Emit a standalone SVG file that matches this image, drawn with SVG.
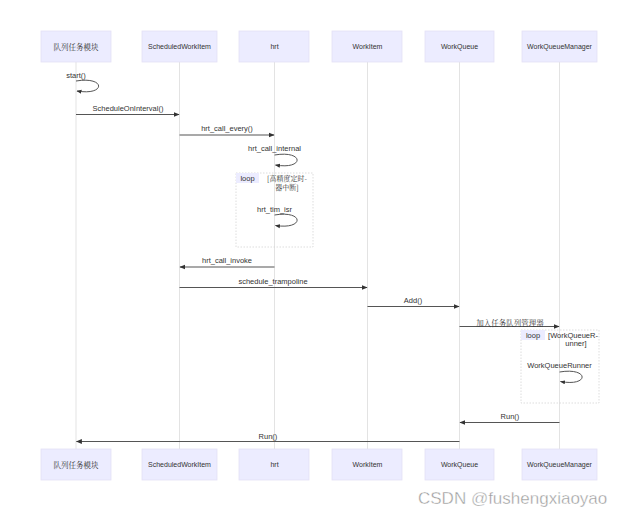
<svg xmlns="http://www.w3.org/2000/svg" width="640" height="518" viewBox="0 0 640 518">
<style>
.actor{fill:#ECECFF;stroke:#E4E0F6;stroke-width:0.8}
.atext{font-family:"Liberation Sans","Noto Sans CJK SC",sans-serif;font-size:7px;fill:#333;text-anchor:middle;dominant-baseline:central}
.cn{font-family:"Noto Serif CJK SC","Liberation Serif","Noto Sans CJK SC",serif;font-size:7.5px;fill:#333;text-anchor:middle;dominant-baseline:central}
.cn2{font-family:"Noto Serif CJK SC","Liberation Serif","Noto Sans CJK SC",serif;font-size:7px;fill:#333;text-anchor:middle}
.life{stroke:#dcdcdc;stroke-width:0.8}
.msg{stroke:#555;stroke-width:1.2;fill:none}
.self{stroke:#555;stroke-width:1;fill:none}
.mtext{font-family:"Liberation Sans","Noto Sans CJK SC",sans-serif;font-size:7.5px;fill:#333;text-anchor:middle}
.loopbox{fill:none;stroke:#d4d4d4;stroke-width:0.8;stroke-dasharray:1.5 1.5}
.looplab{fill:#ECECFF}
.ltext{font-family:"Liberation Sans",sans-serif;font-size:7.5px;fill:#333;text-anchor:middle}
</style>
<defs>
<marker id="arr" viewBox="0 0 10 10" refX="9" refY="5" markerWidth="5" markerHeight="5" orient="auto">
<path d="M0,1 L10,5 L0,9 z" fill="#333"/>
</marker>
</defs>
<rect width="640" height="518" fill="#fff"/>
<g id="lifelines">
<line class="life" x1="76" y1="62" x2="76" y2="449"/>
<line class="life" x1="179.5" y1="62" x2="179.5" y2="449"/>
<line class="life" x1="274.5" y1="62" x2="274.5" y2="449"/>
<line class="life" x1="367.5" y1="62" x2="367.5" y2="449"/>
<line class="life" x1="459.5" y1="62" x2="459.5" y2="449"/>
<line class="life" x1="559.5" y1="62" x2="559.5" y2="449"/>
</g>
<g id="loop1">
<rect class="loopbox" x="236" y="173" width="77" height="74"/>
<rect class="looplab" x="236" y="173" width="23" height="10"/>
<text class="ltext" x="247.5" y="181">loop</text>
<text class="cn2" x="287" y="181">[高精度定时-</text>
<text class="cn2" x="287" y="190">器中断]</text>
</g>
<g id="loop2">
<rect class="loopbox" x="521" y="330" width="78" height="73"/>
<rect class="looplab" x="521" y="330" width="24" height="10"/>
<text class="ltext" x="533" y="338">loop</text>
<text class="ltext" x="573" y="338">[WorkQueueR-</text>
<text class="ltext" x="576" y="346">unner]</text>
</g>
<g id="actor-queue-top"><rect class="actor" x="41" y="31" width="70" height="31"/><text class="cn" x="76" y="46.5">队列任务模块</text></g>
<g id="actor-swi-top"><rect class="actor" x="142" y="31" width="75" height="31"/><text class="atext" x="179.5" y="46.5">ScheduledWorkItem</text></g>
<g id="actor-hrt-top"><rect class="actor" x="239" y="31" width="70" height="31"/><text class="atext" x="274.5" y="46.5">hrt</text></g>
<g id="actor-wi-top"><rect class="actor" x="332" y="31" width="70" height="31"/><text class="atext" x="367.5" y="46.5">WorkItem</text></g>
<g id="actor-wq-top"><rect class="actor" x="425" y="31" width="69" height="31"/><text class="atext" x="459.5" y="46.5">WorkQueue</text></g>
<g id="actor-wqm-top"><rect class="actor" x="522" y="31" width="75" height="31"/><text class="atext" x="559.5" y="46.5">WorkQueueManager</text></g>
<g id="actor-queue-bot"><rect class="actor" x="41" y="449" width="70" height="31"/><text class="cn" x="76" y="464.5">队列任务模块</text></g>
<g id="actor-swi-bot"><rect class="actor" x="142" y="449" width="75" height="31"/><text class="atext" x="179.5" y="464.5">ScheduledWorkItem</text></g>
<g id="actor-hrt-bot"><rect class="actor" x="239" y="449" width="70" height="31"/><text class="atext" x="274.5" y="464.5">hrt</text></g>
<g id="actor-wi-bot"><rect class="actor" x="332" y="449" width="70" height="31"/><text class="atext" x="367.5" y="464.5">WorkItem</text></g>
<g id="actor-wq-bot"><rect class="actor" x="425" y="449" width="69" height="31"/><text class="atext" x="459.5" y="464.5">WorkQueue</text></g>
<g id="actor-wqm-bot"><rect class="actor" x="522" y="449" width="75" height="31"/><text class="atext" x="559.5" y="464.5">WorkQueueManager</text></g>
<g id="connectors">
<path class="self" d="M76,81 C106,76 106,96 77,91" marker-end="url(#arr)"/>
<text class="mtext" x="76" y="78">start()</text>
<line class="msg" x1="76" y1="114.5" x2="179" y2="114.5" marker-end="url(#arr)"/>
<text class="mtext" x="128" y="111">ScheduleOnInterval()</text>
<line class="msg" x1="179.5" y1="135" x2="274" y2="135" marker-end="url(#arr)"/>
<text class="mtext" x="227" y="131">hrt_call_every()</text>
<path class="self" d="M274.5,155 C304.5,150 304.5,170 275.5,165" marker-end="url(#arr)"/>
<text class="mtext" x="274.5" y="151">hrt_call_internal</text>
<path class="self" d="M274.5,215 C304.5,210 304.5,230 275.5,225.5" marker-end="url(#arr)"/>
<text class="mtext" x="274.5" y="212">hrt_tim_isr</text>
<line class="msg" x1="274.5" y1="267" x2="180" y2="267" marker-end="url(#arr)"/>
<text class="mtext" x="227" y="263">hrt_call_invoke</text>
<line class="msg" x1="179.5" y1="287.5" x2="367" y2="287.5" marker-end="url(#arr)"/>
<text class="mtext" x="273" y="284">schedule_trampoline</text>
<line class="msg" x1="367.5" y1="306.5" x2="459" y2="306.5" marker-end="url(#arr)"/>
<text class="mtext" x="413" y="303">Add()</text>
<line class="msg" x1="459.5" y1="326.5" x2="559" y2="326.5" marker-end="url(#arr)"/>
<text class="cn" x="510" y="322">加入任务队列管理器</text>
<path class="self" d="M559.5,372 C589.5,367 589.5,387 560.5,381.5" marker-end="url(#arr)"/>
<text class="mtext" x="559.5" y="368">WorkQueueRunner</text>
<line class="msg" x1="559.5" y1="422.5" x2="460" y2="422.5" marker-end="url(#arr)"/>
<text class="mtext" x="510" y="419">Run()</text>
<line class="msg" x1="459.5" y1="441.5" x2="76.5" y2="441.5" marker-end="url(#arr)"/>
<text class="mtext" x="268" y="439">Run()</text>
</g>
<text x="418" y="504" font-family="Liberation Sans,sans-serif" font-size="17" fill="#9a9a9a" stroke="#fff" stroke-width="0.4">CSDN @fushengxiaoyao</text>
</svg>
